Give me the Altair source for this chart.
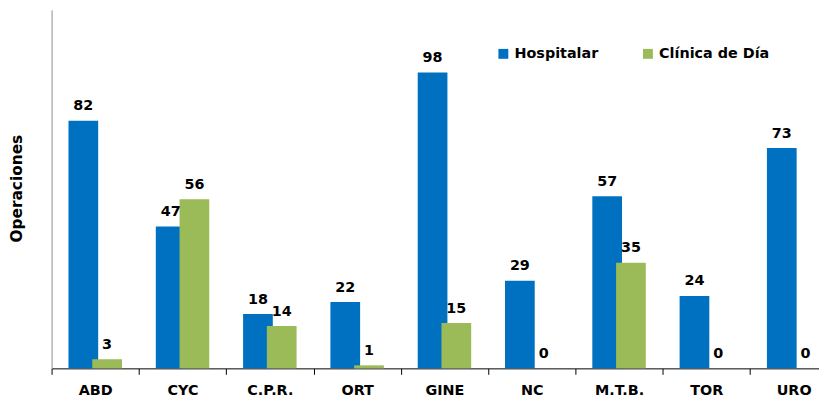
import altair as alt
import pandas as pd

categories = ["ABD", "CYC", "C.P.R.", "ORT", "GINE", "NC", "M.T.B.", "TOR", "URO"]
hospitalar = [82, 47, 18, 22, 98, 29, 57, 24, 73]
clinica = [3, 56, 14, 1, 15, 0, 35, 0, 0]
series = ["Hospitalar", "Clínica de Día"]
colors = ["#0070C0", "#9BBB59"]

rows = []
for c, h, k in zip(categories, hospitalar, clinica):
    rows.append({"cat": c, "serie": series[0], "val": h})
    rows.append({"cat": c, "serie": series[1], "val": k})
df = pd.DataFrame(rows)

FONT = "DejaVu Sans"

x = alt.X(
    "cat:N",
    sort=categories,
    scale=alt.Scale(paddingInner=0, paddingOuter=0, range=[0, 793.5]),
    axis=alt.Axis(
        title=None, tickBand="extent", labelAngle=0, domainColor="#000000",
        tickColor="#000000", tickSize=6, labelFont=FONT, labelFontSize=14.5,
        labelFontWeight="bold", labelColor="#000000", labelPadding=9,
    ),
)
y = alt.Y(
    "val:Q",
    scale=alt.Scale(domain=[0, 118.7], nice=False, zero=True),
    axis=alt.Axis(
        title="Operaciones", labels=False, ticks=False, grid=False,
        domainColor="#8C8C8C", titleFont=FONT, titleFontSize=15.5,
        titleFontWeight="bold", titleColor="#000000", titleX=-35, titleY=180,
        titleAngle=270, titleAlign="center", titleBaseline="middle",
    ),
)
color = alt.Color(
    "serie:N",
    scale=alt.Scale(domain=series, range=colors),
    legend=alt.Legend(
        title=None, orient="none", legendX=449, legendY=37,
        direction="horizontal", symbolType="square", symbolSize=100,
        symbolStrokeWidth=0, labelFont=FONT, labelFontSize=14.5,
        labelFontWeight="bold", labelColor="#000000", labelOffset=4,
        columnPadding=42, padding=0,
    ),
)

base = alt.Chart(df)
f_h = alt.datum.serie == series[0]
f_c = alt.datum.serie == series[1]

bar_h = base.transform_filter(f_h).mark_bar(width=30, xOffset=-12).encode(x=x, y=y, color=color)
bar_c = base.transform_filter(f_c).mark_bar(width=30, xOffset=12).encode(x=x, y=y, color=color)

txt_kw = dict(dy=-10.5, baseline="alphabetic", font=FONT, fontSize=14.5,
              fontWeight="bold", color="#000000")
txt_h = base.transform_filter(f_h).mark_text(xOffset=-12, **txt_kw).encode(x=x, y=y, text="val:Q")
txt_c = base.transform_filter(f_c).mark_text(xOffset=12, **txt_kw).encode(x=x, y=y, text="val:Q")

chart = alt.layer(bar_h, bar_c, txt_h, txt_c).properties(
    width=775,
    height=362,
    padding={"left": 44, "top": 0, "right": 0, "bottom": 28},
    autosize=alt.AutoSizeParams(type="none"),
    background="#FFFFFF",
).configure_view(strokeWidth=0)

chart.save("out.html", embed_options={"renderer": "svg", "actions": False})
